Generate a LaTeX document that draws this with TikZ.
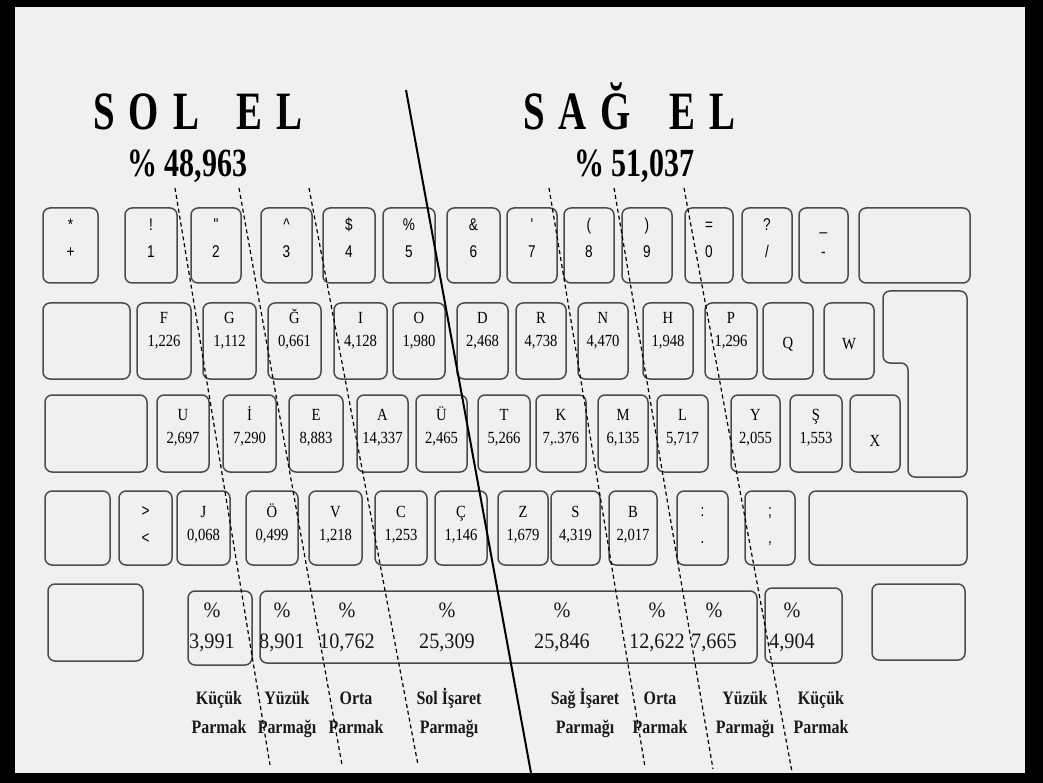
\documentclass[tikz,border=0pt]{standalone}
\usepackage{fontspec}
\setmainfont{Liberation Serif}
\newfontfamily\ttlfnt[FakeStretch=0.72]{Liberation Serif}
\newfontfamily\pctfnt[FakeStretch=0.75]{Liberation Serif}
\newfontfamily\keyserif[FakeStretch=0.86]{Liberation Serif}
\newfontfamily\keysans[FakeStretch=0.8]{Liberation Sans}
\newfontfamily\valfnt[FakeStretch=0.92]{Liberation Serif}
\newfontfamily\fingfnt[FakeStretch=0.84]{Liberation Serif}
\newcommand\fA{\keysans\fontsize{17}{27}\selectfont}
\newcommand\fB{\keyserif\fontsize{17}{23}\selectfont}
\definecolor{bgc}{RGB}{240,240,240}
\definecolor{kgray}{RGB}{75,75,75}
\newcommand\kb[8]{%
  \node[keybox,minimum width={(#4-#2)*1pt},minimum height={(#5-#3)*1pt}] (#1) at ({(#2+#4)/2},{(#3+#5)/2}) {};
  \node[keytxt,font=#7] (#1t) at ([yshift=#6pt]#1.center) {#8};}
\newcommand\kbe[5]{%
  \node[keybox,minimum width={(#4-#2)*1pt},minimum height={(#5-#3)*1pt}] (#1) at ({(#2+#4)/2},{(#3+#5)/2}) {};}
\begin{document}
\begin{tikzpicture}[x=1pt,y=-1pt,
  keybox/.style={draw=kgray,line width=1.5pt,rounded corners=7pt,inner sep=0pt,outer sep=0pt},
  keytxt/.style={inner sep=0pt,align=center,text=black},
  valtxt/.style={inner sep=0pt,align=center,text=black!90,font=\valfnt\fontsize{22}{31}\selectfont},
  fingtxt/.style={inner sep=0pt,align=center,text=black!90,font=\fingfnt\bfseries\fontsize{19}{29}\selectfont},
  ttl/.style={inner sep=0pt,anchor=base west,font=\ttlfnt\bfseries\fontsize{54}{60}\selectfont},
  pct/.style={inner sep=0pt,anchor=base west,font=\pctfnt\bfseries\fontsize{40}{44}\selectfont},
  divline/.style={black,line width=1.2pt,dash pattern=on 4pt off 3pt},
  mainline/.style={black,line width=2pt}]
\useasboundingbox (0,0) rectangle (1043,783);
\fill[black] (0,0) rectangle (1043,783);
\fill[bgc] (15,7) rectangle (1025,773);
% titles
\node[ttl] (tl) at (93,130) {S\hspace{14pt}O\hspace{14pt}L\hspace{38pt}E\hspace{14pt}L};
\node[ttl] (tr) at (523,130) {S\hspace{14pt}A\hspace{14pt}Ğ\hspace{38pt}E\hspace{14pt}L};
\node[pct] (pl) at (127,177) {\% 48,963};
\node[pct] (pr) at (574,177) {\% 51,037};
% row 1
\kb{r1a}{43}{208}{98}{283}{6.5}{\fA}{\strut*\\\strut+}
\kb{r1b}{125}{208}{177}{283}{6.5}{\fA}{\strut!\\\strut1}
\kb{r1c}{191}{208}{241}{283}{6.5}{\fA}{\strut"\\\strut2}
\kb{r1d}{261}{208}{312}{283}{6.5}{\fA}{\strut\textasciicircum\\\strut3}
\kb{r1e}{323}{208}{375}{283}{6.5}{\fA}{\strut\$\\\strut4}
\kb{r1f}{383}{208}{435}{283}{6.5}{\fA}{\strut\%\\\strut5}
\kb{r1g}{447}{208}{500}{283}{6.5}{\fA}{\strut\&\\\strut6}
\kb{r1h}{507}{208}{557}{283}{6.5}{\fA}{\strut'\\\strut7}
\kb{r1i}{564}{208}{614}{283}{6.5}{\fA}{\strut(\\\strut8}
\kb{r1j}{622}{208}{672}{283}{6.5}{\fA}{\strut)\\\strut9}
\kb{r1k}{685}{208}{733}{283}{6.5}{\fA}{\strut=\\\strut0}
\kb{r1l}{742}{208}{792}{283}{6.5}{\fA}{\strut?\\\strut/}
\kb{r1m}{799}{208}{848}{283}{6.5}{\fA}{\strut\_\\\strut-}
\kbe{r1n}{859}{208}{970}{283}
% row 2
\kbe{r2a}{43}{303}{130}{379}
\kb{r2b}{137}{303}{191}{379}{10.5}{\fB}{\strut F\\\strut1,226}
\kb{r2c}{203}{303}{256}{379}{10.5}{\fB}{\strut G\\\strut1,112}
\kb{r2d}{268}{303}{321}{379}{10.5}{\fB}{\strut Ğ\\\strut0,661}
\kb{r2e}{334}{303}{387}{379}{10.5}{\fB}{\strut I\\\strut4,128}
\kb{r2f}{393}{303}{445}{379}{10.5}{\fB}{\strut O\\\strut1,980}
\kb{r2g}{457}{303}{508}{379}{10.5}{\fB}{\strut D\\\strut2,468}
\kb{r2h}{516}{303}{566}{379}{10.5}{\fB}{\strut R\\\strut4,738}
\kb{r2i}{578}{303}{628}{379}{10.5}{\fB}{\strut N\\\strut4,470}
\kb{r2j}{643}{303}{693}{379}{10.5}{\fB}{\strut H\\\strut1,948}
\kb{r2k}{705}{303}{757}{379}{10.5}{\fB}{\strut P\\\strut1,296}
\kb{r2l}{763}{303}{813}{379}{-3}{\fB}{Q}
\kb{r2m}{824}{303}{874}{379}{-3}{\fB}{W}
% enter key
\draw[draw=kgray,line width=1.5pt,rounded corners=7pt] (925,291) -- (967,291) -- (967,477) -- (908,477) -- (908,363) -- (883,363) -- (883,291) -- cycle;
% row 3
\kbe{r3a}{45}{395}{147}{472}
\kb{r3b}{157}{395}{209}{472}{6}{\fB}{\strut U\\\strut2,697}
\kb{r3c}{223}{395}{276}{472}{6}{\fB}{\strut İ\\\strut7,290}
\kb{r3d}{289}{395}{343}{472}{6}{\fB}{\strut E\\\strut8,883}
\kb{r3e}{357}{395}{408}{472}{6}{\fB}{\strut A\\\strut14,337}
\kb{r3f}{416}{395}{467}{472}{6}{\fB}{\strut Ü\\\strut2,465}
\kb{r3g}{478}{395}{530}{472}{6}{\fB}{\strut T\\\strut5,266}
\kb{r3h}{536}{395}{586}{472}{6}{\fB}{\strut K\\\strut7,.376}
\kb{r3i}{598}{395}{648}{472}{6}{\fB}{\strut M\\\strut6,135}
\kb{r3j}{657}{395}{708}{472}{6}{\fB}{\strut L\\\strut5,717}
\kb{r3k}{731}{395}{780}{472}{6}{\fB}{\strut Y\\\strut2,055}
\kb{r3l}{790}{395}{842}{472}{6}{\fB}{\strut Ş\\\strut1,553}
\kb{r3m}{850}{395}{900}{472}{-7}{\fB}{X}
% row 4
\kbe{r4a}{45}{491}{110}{565}
\kb{r4b}{119}{491}{172}{565}{3.5}{\fA}{\strut>\\\strut<}
\kb{r4c}{177}{491}{230}{565}{3.5}{\fB}{\strut J\\\strut0,068}
\kb{r4d}{246}{491}{298}{565}{3.5}{\fB}{\strut Ö\\\strut0,499}
\kb{r4e}{309}{491}{362}{565}{3.5}{\fB}{\strut V\\\strut1,218}
\kb{r4f}{375}{491}{427}{565}{3.5}{\fB}{\strut C\\\strut1,253}
\kb{r4g}{435}{491}{487}{565}{3.5}{\fB}{\strut Ç\\\strut1,146}
\kb{r4h}{498}{491}{548}{565}{3.5}{\fB}{\strut Z\\\strut1,679}
\kb{r4i}{551}{491}{600}{565}{3.5}{\fB}{\strut S\\\strut4,319}
\kb{r4j}{609}{491}{657}{565}{3.5}{\fB}{\strut B\\\strut2,017}
\kb{r4k}{677}{491}{728}{565}{3.5}{\fA}{\strut:\\\strut.}
\kb{r4l}{745}{491}{795}{565}{3.5}{\fA}{\strut;\\\strut,}
\kbe{r4m}{809}{491}{967}{565}
% row 5
\kbe{r5a}{48}{584}{143}{661}
\kbe{r5b}{188}{591}{252}{665}
\kbe{r5c}{260}{591}{757}{663}
\kbe{r5d}{765}{588}{842}{663}
\kbe{r5e}{872}{584}{965}{660}
\node[valtxt] (v1) at (212,627) {\strut\%\\\strut3,991};
\node[valtxt] (v2) at (282,627) {\strut\%\\\strut8,901};
\node[valtxt] (v3) at (347,627) {\strut\%\\\strut10,762};
\node[valtxt] (v4) at (447,627) {\strut\%\\\strut25,309};
\node[valtxt] (v5) at (562,627) {\strut\%\\\strut25,846};
\node[valtxt] (v6) at (657,627) {\strut\%\\\strut12,622};
\node[valtxt] (v7) at (714,627) {\strut\%\\\strut7,665};
\node[valtxt] (v8) at (792,627) {\strut\%\\\strut4,904};
% finger labels
\node[fingtxt] (f1) at (219,713) {\strut Küçük\\\strut Parmak};
\node[fingtxt] (f2) at (287,713) {\strut Yüzük\\\strut Parmağı};
\node[fingtxt] (f3) at (356,713) {\strut Orta\\\strut Parmak};
\node[fingtxt] (f4) at (449,713) {\strut Sol İşaret\\\strut Parmağı};
\node[fingtxt] (f5) at (585,713) {\strut Sağ İşaret\\\strut Parmağı};
\node[fingtxt] (f6) at (660,713) {\strut Orta\\\strut Parmak};
\node[fingtxt] (f7) at (745,713) {\strut Yüzük\\\strut Parmağı};
\node[fingtxt] (f8) at (821,713) {\strut Küçük\\\strut Parmak};
% dividing lines
\coordinate (d1a) at (175,188); \coordinate (d1b) at (270,765);
\coordinate (d2a) at (239,188); \coordinate (d2b) at (342,765);
\coordinate (d3a) at (309,188); \coordinate (d3b) at (418,765);
\coordinate (d4a) at (549,188); \coordinate (d4b) at (645,767);
\coordinate (d5a) at (614,188); \coordinate (d5b) at (713,769);
\coordinate (d6a) at (684,188); \coordinate (d6b) at (792,772);
\coordinate (ma) at (406,90); \coordinate (mb) at (531,773);
\foreach \i in {1,...,6} {\draw[divline] (d\i a) -- (d\i b);}
\draw[mainline] (ma) -- (mb);
\end{tikzpicture}
\end{document}
